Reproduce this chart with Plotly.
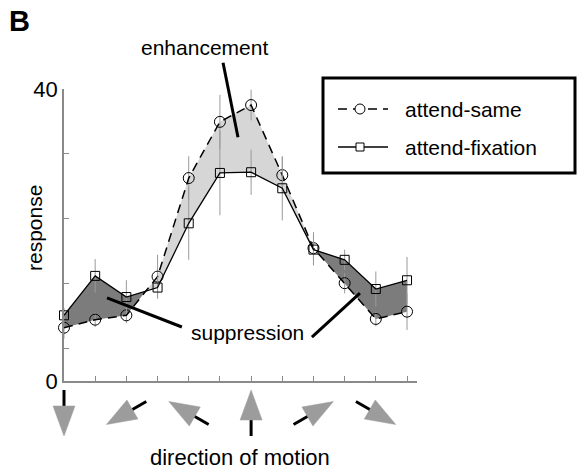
import numpy as np
import plotly.graph_objects as go

# Direction of motion for each of the 12 tested stimuli (degrees, counter-clockwise from rightward)
directions_deg = [270, 240, 210, 180, 150, 120, 90, 60, 30, 0, -30, -60]

# Mean responses and error bars for the two attention conditions
attend_same = [7.3, 8.4, 9.0, 14.3, 27.8, 35.5, 37.8, 28.2, 18.2, 13.4, 8.5, 9.5]
attend_same_err = [1.5, 1.0, 1.1, 3.0, 3.0, 3.7, 2.1, 2.5, 2.2, 1.4, 1.0, 2.5]
attend_fixation = [9.0, 14.4, 11.5, 12.8, 21.6, 28.5, 28.6, 26.4, 18.0, 16.6, 12.6, 13.8]
attend_fixation_err = [1.0, 2.3, 2.3, 1.5, 5.0, 5.8, 3.1, 4.4, 2.2, 1.4, 2.4, 3.2]

y_tickvals = [0, 4.4, 13.3, 22.2, 31.1, 40]
y_ticktext = ["0", "", "", "", "", "40"]

X_RANGE = [0, 11.32]
Y_RANGE = [0, 40]
FONT = "Liberation Sans, Arial, Helvetica, sans-serif"

# plot area geometry (pixels)
ML, MR, MT, MB = 64, 161, 89, 92
W, H = 578, 473
PW, PH = W - ML - MR, H - MT - MB

x = np.arange(len(attend_same), dtype=float)
same = np.array(attend_same)
fix = np.array(attend_fixation)


def xp(v):
    return (v - X_RANGE[0]) / (X_RANGE[1] - X_RANGE[0])


def yp(v):
    return (v - Y_RANGE[0]) / (Y_RANGE[1] - Y_RANGE[0])


def px_x(p):
    return (p - ML) / PW


def px_y(p):
    return (H - MB - p) / PH


# Split the band between the two curves into enhancement / suppression regions
X, S, F = [x[0]], [same[0]], [fix[0]]
for i in range(len(x) - 1):
    d0, d1 = same[i] - fix[i], same[i + 1] - fix[i + 1]
    if d0 * d1 < 0:
        t = d0 / (d0 - d1)
        xc = x[i] + t * (x[i + 1] - x[i])
        yc = same[i] + t * (same[i + 1] - same[i])
        X.append(xc); S.append(yc); F.append(yc)
    X.append(x[i + 1]); S.append(same[i + 1]); F.append(fix[i + 1])
X, S, F = np.array(X), np.array(S), np.array(F)

regions = []
start = 0
for k in range(1, len(X)):
    if S[k] == F[k] or k == len(X) - 1:
        seg = slice(start, k + 1)
        sign = np.sign(np.sum(S[seg] - F[seg]))
        regions.append((X[seg], S[seg], F[seg], sign))
        start = k

fig = go.Figure()

for rx, rs, rf, sign in regions:
    fig.add_trace(go.Scatter(
        x=np.concatenate([rx, rx[::-1]]),
        y=np.concatenate([rs, rf[::-1]]),
        fill="toself", mode="lines", line=dict(width=0),
        fillcolor="#d6d6d6" if sign > 0 else "#7c7c7c",
        showlegend=False, hoverinfo="skip", cliponaxis=False,
    ))

SAME_LINE = dict(color="black", width=1.5, dash="9px,6px")
FIX_LINE = dict(color="black", width=1.3)

fig.add_trace(go.Scatter(
    x=x, y=attend_same, name="attend-same", mode="lines+markers",
    line=SAME_LINE,
    marker=dict(symbol="circle-open", size=11, color="black", line=dict(width=1)),
    error_y=dict(type="data", array=attend_same_err, color="#9a9a9a", thickness=1, width=0),
    cliponaxis=False, showlegend=False,
))
fig.add_trace(go.Scatter(
    x=x, y=attend_fixation, name="attend-fixation", mode="lines+markers",
    line=FIX_LINE,
    marker=dict(symbol="square-open", size=9, color="black", line=dict(width=1)),
    error_y=dict(type="data", array=attend_fixation_err, color="#9a9a9a", thickness=1, width=0),
    cliponaxis=False, showlegend=False,
))

shapes = []

# Direction-of-motion arrows under every other tick
arrow_y = px_y(413)
for i, theta in enumerate(directions_deg):
    if i % 2:
        continue
    t = np.radians(theta)
    u = np.array([np.cos(t), np.sin(t)])
    n = np.array([-np.sin(t), np.cos(t)])
    length, head, half = 46, 30, 11
    tip = u * length / 2
    base = tip - u * head
    c1, c2 = base + n * half, base - n * half
    tail = -u * length / 2
    common = dict(xref="paper", yref="paper", xsizemode="pixel", ysizemode="pixel",
                  xanchor=xp(x[i]), yanchor=arrow_y, layer="above")
    shapes.append(dict(type="path",
                       path=f"M {tail[0]:.2f} {tail[1]:.2f} L {base[0] + u[0]*3:.2f} {base[1] + u[1]*3:.2f}",
                       line=dict(color="black", width=3), **common))
    shapes.append(dict(type="path",
                       path=f"M {tip[0]:.2f} {tip[1]:.2f} L {c1[0]:.2f} {c1[1]:.2f} L {c2[0]:.2f} {c2[1]:.2f} Z",
                       fillcolor="#9c9c9c", line=dict(color="#9c9c9c", width=0.5), **common))

# Pointer lines for the labels
pointers = [((5.10, 43.6), (5.58, 33.4)),
            ((1.38, 11.4), (3.78, 7.4)),
            ((7.95, 6.0), (9.49, 12.05))]
for (x0, y0), (x1, y1) in pointers:
    shapes.append(dict(type="line", xref="paper", yref="paper",
                       x0=xp(x0), y0=yp(y0), x1=xp(x1), y1=yp(y1),
                       line=dict(color="black", width=3), layer="above"))

# Legend box with its two keys
shapes.append(dict(type="rect", xref="paper", yref="paper",
                   x0=px_x(323), x1=px_x(575), y0=px_y(173), y1=px_y(78),
                   line=dict(color="black", width=3), fillcolor="white", layer="above"))
key_rows = [("attend-same", SAME_LINE, "circle", 109),
            ("attend-fixation", FIX_LINE, "square", 147)]
annotations = []
for label, line_style, sym, ypix in key_rows:
    shapes.append(dict(type="line", xref="paper", yref="paper",
                       x0=px_x(338), x1=px_x(388), y0=px_y(ypix), y1=px_y(ypix),
                       line=dict(color="black", width=line_style["width"],
                                 dash=line_style.get("dash", "solid")), layer="above"))
    r = 5 if sym == "circle" else 4
    shapes.append(dict(type="circle" if sym == "circle" else "rect",
                       xref="paper", yref="paper", xsizemode="pixel", ysizemode="pixel",
                       xanchor=px_x(360), yanchor=px_y(ypix), x0=-r, x1=r, y0=-r, y1=r,
                       line=dict(color="black", width=1), fillcolor="white", layer="above"))
    annotations.append(dict(text=label, x=px_x(403), y=px_y(ypix), xref="paper", yref="paper",
                            xanchor="left", yanchor="middle", showarrow=False,
                            font=dict(size=21, family=FONT, color="black")))

annotations += [
    dict(text="enhancement", x=xp(4.52), y=yp(45.75), xref="paper", yref="paper",
         xanchor="center", yanchor="middle", showarrow=False,
         font=dict(size=21, family=FONT, color="black")),
    dict(text="suppression", x=xp(5.87), y=yp(6.7), xref="paper", yref="paper",
         xanchor="center", yanchor="middle", showarrow=False,
         font=dict(size=21, family=FONT, color="black")),
    dict(text="response", x=px_x(34), y=px_y(228), xref="paper", yref="paper", textangle=-90,
         xanchor="center", yanchor="middle", showarrow=False,
         font=dict(size=21, family=FONT, color="black")),
    dict(text="direction of motion", x=px_x(240), y=px_y(457), xref="paper", yref="paper",
         xanchor="center", yanchor="middle", showarrow=False,
         font=dict(size=22, family=FONT, color="black")),
    dict(text="<b>B</b>", x=px_x(7), y=px_y(21), xref="paper", yref="paper",
         xanchor="left", yanchor="middle", showarrow=False,
         font=dict(size=29, family=FONT, color="black")),
]

fig.update_layout(
    width=W, height=H,
    margin=dict(l=ML, r=MR, t=MT, b=MB),
    paper_bgcolor="white", plot_bgcolor="white",
    font=dict(family=FONT, color="black"),
    shapes=shapes, annotations=annotations,
    showlegend=False,
    xaxis=dict(range=X_RANGE, showline=True, linecolor="#8a8a8a", linewidth=1.5,
               ticks="inside", ticklen=5, tickcolor="#8a8a8a", tickvals=list(x),
               showticklabels=False, showgrid=False, zeroline=False, fixedrange=True),
    yaxis=dict(range=Y_RANGE, showline=True, linecolor="#8a8a8a", linewidth=1.5,
               ticks="inside", ticklen=5, tickcolor="#8a8a8a",
               tickvals=y_tickvals, ticktext=y_ticktext,
               tickfont=dict(size=22, family=FONT, color="black"),
               showgrid=False, zeroline=False, fixedrange=True),
)

fig.write_html("out.html")
